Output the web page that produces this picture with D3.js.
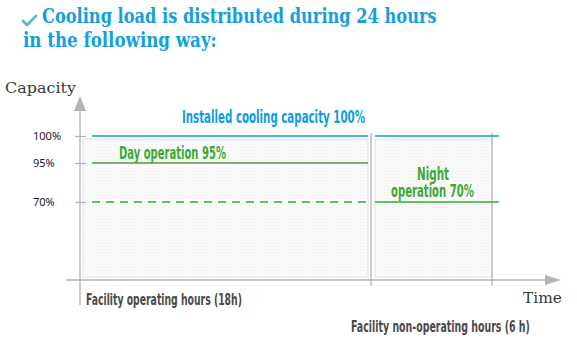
<!DOCTYPE html>
<html>
<head>
<meta charset="utf-8">
<script src="https://cdn.jsdelivr.net/npm/d3@7"></script>
<style>
  html, body { margin: 0; padding: 0; background: #fff; }
  svg { display: block; }
</style>
</head>
<body>
<svg id="chart" width="577" height="356"></svg>
<script>
// ---- data ----
const titleLines = ["Cooling load is distributed during 24 hours", "in the following way:"];
const yTickValues = [100, 95, 70];
const yTickLabels = ["100%", "95%", "70%"];
const periodNames = ["day", "night"];
const periodHours = [18, 6];
const periodLabels = ["Facility operating hours (18h)", "Facility non-operating hours (6 h)"];
const installedCapacity = [100, 100];
const operationLoad = [95, 70];
const dayReferenceLoad = 70;
const installedLabel = "Installed cooling capacity 100%";
const operationLabels = [["Day operation 95%"], ["Night", "operation 70%"]];
const yAxisTitle = "Capacity";
const xAxisTitle = "Time";

// ---- setup ----
const svg = d3.select("#chart");
const blue = "#0d9ddf", green = "#3aa935", grayAxis = "#b4b4b4", dark = "#3a3a3a";
const condensed = "'Liberation Sans Narrow', 'DejaVu Sans Condensed', 'Roboto', sans-serif";
const serif = "'DejaVu Serif', 'Liberation Serif', serif";

const cumHours = [0];
periodHours.forEach(h => cumHours.push(cumHours[cumHours.length - 1] + h));
// polylinear scales (chart is schematic, not proportional)
const x = d3.scaleLinear().domain(cumHours).range([83, 371, 492]);
const y = d3.scaleLinear().domain([0, 70, 95, 100]).range([280, 202, 163, 136]);

// place a text at (px, py) and squeeze it horizontally to width w
function squeezed(str, px, py, w, size, fill, family, weight) {
  const t = svg.append("text").attr("x", 0).attr("y", 0).text(str)
    .attr("font-family", family).attr("font-weight", weight || "bold")
    .attr("font-size", size).attr("fill", fill);
  const nat = t.node().getComputedTextLength() || w;
  t.attr("transform", `translate(${px},${py}) scale(${w / nat},1)`);
  return t;
}

// ---- title ----
svg.append("path")
  .attr("d", "M23,21 L27,25 L36,16")
  .attr("fill", "none").attr("stroke", "#5ab6c2").attr("stroke-width", 2.6)
  .attr("stroke-linecap", "round").attr("stroke-linejoin", "round");
squeezed(titleLines[0], 42, 23, 395, 19.5, "#13a0dc", serif);
squeezed(titleLines[1], 23, 47, 194, 19.5, "#13a0dc", serif);

// ---- period boxes ----
const periods = periodNames.map((n, i) => ({
  name: n, start: cumHours[i], end: cumHours[i + 1],
  installed: installedCapacity[i], load: operationLoad[i], label: periodLabels[i]
}));

const defs = svg.append("defs");
const pat = defs.append("pattern").attr("id", "dots").attr("width", 3).attr("height", 3)
  .attr("patternUnits", "userSpaceOnUse");
pat.append("rect").attr("width", 3).attr("height", 3).attr("fill", "#fafafa");
pat.append("rect").attr("width", 1).attr("height", 1).attr("fill", "#f0f0f0");

svg.selectAll("rect.box").data(periods).join("rect").attr("class", "box")
  .attr("x", (d, i) => i === 0 ? x(d.start) : x(d.start) + 4)
  .attr("width", (d, i) => i === 0 ? x(d.end) - x(d.start) - 3 : x(d.end) - x(d.start) - 4)
  .attr("y", y(100) + 3)
  .attr("height", y(0) - y(100) - 6)
  .attr("fill", "url(#dots)").attr("stroke", "#e2e2e2").attr("stroke-width", 1);

// vertical separators
svg.selectAll("line.sep").data(cumHours.slice(1)).join("line").attr("class", "sep")
  .attr("x1", d => x(d)).attr("x2", d => x(d))
  .attr("y1", y(100) - 3).attr("y2", y(0) + 6)
  .attr("stroke", grayAxis).attr("stroke-width", 1.3);

// ---- axes ----
const axisX0 = 80;
// y axis
svg.append("line").attr("x1", axisX0).attr("x2", axisX0).attr("y1", 108).attr("y2", 305)
  .attr("stroke", grayAxis).attr("stroke-width", 1.3);
svg.append("path").attr("d", `M${axisX0},96 L${axisX0 + 6},111 L${axisX0 - 6},111 Z`).attr("fill", grayAxis);
// x axis
svg.append("line").attr("x1", 66).attr("x2", 548).attr("y1", y(0)).attr("y2", y(0))
  .attr("stroke", grayAxis).attr("stroke-width", 1.3);
svg.append("path").attr("d", `M561,${y(0)} L545,${y(0) - 5} L545,${y(0) + 5} Z`).attr("fill", grayAxis);

// y ticks
const yAxis = d3.axisLeft(y).tickValues(yTickValues).tickFormat((d, i) => yTickLabels[i]).tickSize(0);
const gy = svg.append("g").attr("transform", `translate(${axisX0 - 5},0)`).call(yAxis);
gy.select(".domain").remove();
gy.selectAll(".tick line").attr("x1", 0).attr("x2", 11).attr("stroke", grayAxis).attr("stroke-width", 1.3);
gy.selectAll(".tick text")
  .attr("x", -42).attr("text-anchor", "start").attr("dy", "0.35em")
  .attr("font-family", "'Noto Sans', sans-serif").attr("font-size", 11).attr("fill", "#1a1a1a");

// axis titles
squeezed(yAxisTitle, 5, 93, 71, 15.5, dark, serif, "normal");
squeezed(xAxisTitle, 523, 303, 39, 15.5, dark, serif, "normal");

// ---- load lines ----
const lineStart = (d, i) => i === 0 ? x(d.start) + 9 : x(d.start) + 4;
const lineEnd = (d, i) => i === 0 ? x(d.end) - 3 : x(d.end) + 7;

svg.selectAll("line.inst").data(periods).join("line").attr("class", "inst")
  .attr("x1", lineStart).attr("x2", lineEnd)
  .attr("y1", d => y(d.installed)).attr("y2", d => y(d.installed))
  .attr("stroke", blue).attr("stroke-width", 1.6);

svg.selectAll("line.load").data(periods).join("line").attr("class", "load")
  .attr("x1", lineStart).attr("x2", lineEnd)
  .attr("y1", d => y(d.load)).attr("y2", d => y(d.load))
  .attr("stroke", green).attr("stroke-width", 1.3);

// dashed reference in day period
svg.append("line")
  .attr("x1", lineStart(periods[0], 0)).attr("x2", lineEnd(periods[0], 0))
  .attr("y1", y(dayReferenceLoad)).attr("y2", y(dayReferenceLoad))
  .attr("stroke", green).attr("stroke-width", 1.3).attr("stroke-dasharray", "8,6");

// ---- labels ----
const lab = 17;
squeezed(installedLabel, 182, 123, 183, lab, blue, condensed);
squeezed(operationLabels[0][0], 119, 159, 107, lab, green, condensed);
squeezed(operationLabels[1][0], 417, 180, 32, lab, green, condensed);
squeezed(operationLabels[1][1], 391, 197, 83, lab, green, condensed);

squeezed(periods[0].label, 86, 305, 156, 16, "#4a4a4a", condensed);
squeezed(periods[1].label, 351, 332, 179, 16, "#4a4a4a", condensed);
</script>
</body>
</html>
